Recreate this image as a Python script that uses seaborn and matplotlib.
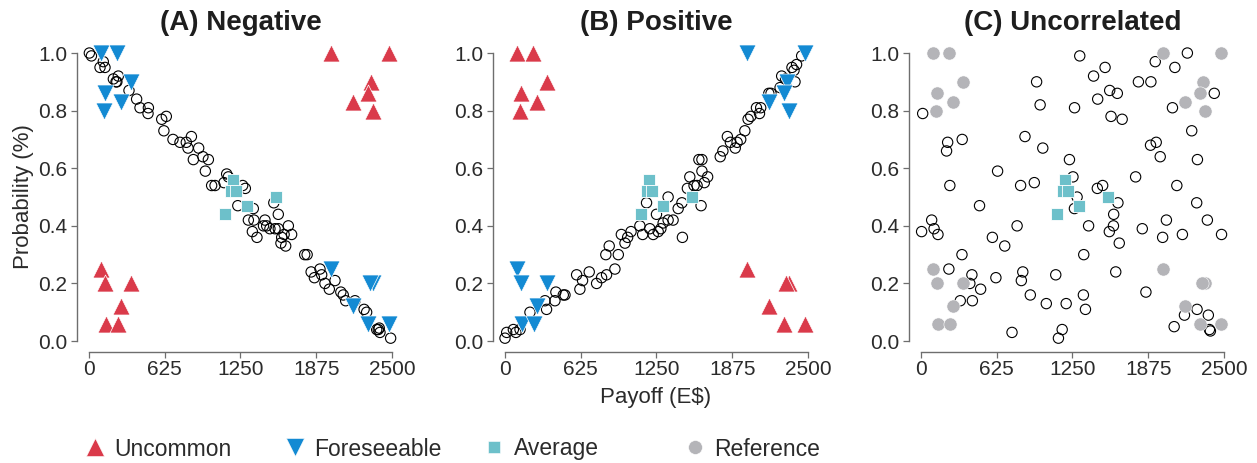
import numpy as np
import pandas as pd
import matplotlib
matplotlib.use("Agg")
import matplotlib.pyplot as plt
import seaborn as sns
from matplotlib.lines import Line2D
from matplotlib.transforms import blended_transform_factory

# ---------------- data ----------------
panel_titles = ["(A) Negative", "(B) Positive", "(C) Uncorrelated"]
x_ticks = [0, 625, 1250, 1875, 2500]
y_ticks = [0.0, 0.2, 0.4, 0.6, 0.8, 1.0]
y_tick_labels = ["0.0", "0.2", "0.4", "0.6", "0.8", "1.0"]
legend_labels = ["Uncommon", "Foreseeable", "Average", "Reference"]

# corner groups of special lotteries
tl_x = [96, 233, 348, 134, 266, 126]
tl_y = [1.00, 1.00, 0.90, 0.86, 0.83, 0.80]
bl_x = [96, 130, 350, 263, 138, 236]
bl_y = [0.25, 0.20, 0.20, 0.12, 0.06, 0.06]
tr_x = [1998, 2475, 2324, 2300, 2176, 2340]
tr_y = [1.00, 1.00, 0.90, 0.86, 0.83, 0.80]
br_x = [1998, 2340, 2322, 2176, 2300, 2475]
br_y = [0.25, 0.20, 0.20, 0.12, 0.06, 0.06]

avg_x = [1121, 1190, 1170, 1212, 1302, 1543]
avg_y = [0.44, 0.56, 0.52, 0.52, 0.47, 0.50]

neg_x = [3, 20, 91, 132, 118, 242, 201, 223, 230, 330, 393, 421, 490, 487, 600, 638, 618,
         693, 751, 803, 845, 817, 905, 861, 940, 985, 960, 1012, 1040, 1114, 1150, 1136,
         1268, 1290, 1228, 1525, 1562, 1356, 1315, 1361, 1348, 1386, 1452, 1440, 1466,
         1493, 1535, 1562, 1590, 1584, 1623, 1645, 1672, 1610, 1780, 1800, 1833, 1860,
         1906, 1920, 1947, 1983, 2030, 2078, 2098, 2118, 2195, 2270, 2291, 2374, 2387,
         2401, 2395, 2489]
neg_y = [1.00, 0.99, 0.95, 0.95, 0.97, 0.92, 0.91, 0.90, 0.90, 0.87, 0.84, 0.81, 0.81, 0.79,
         0.77, 0.78, 0.73, 0.70, 0.69, 0.69, 0.71, 0.67, 0.67, 0.63, 0.64, 0.63, 0.59, 0.54,
         0.54, 0.55, 0.57, 0.58, 0.54, 0.53, 0.47, 0.48, 0.44, 0.46, 0.42, 0.42, 0.38, 0.36,
         0.42, 0.40, 0.40, 0.39, 0.39, 0.39, 0.36, 0.34, 0.33, 0.40, 0.37, 0.37, 0.30, 0.30,
         0.24, 0.22, 0.25, 0.23, 0.20, 0.18, 0.21, 0.17, 0.16, 0.14, 0.14, 0.11, 0.10, 0.04,
         0.04, 0.03, 0.045, 0.01]

pos_x = [0, 14, 69, 90, 124, 206, 330, 343, 412, 420, 481, 495, 591, 618, 640, 695, 756, 797,
         838, 907, 832, 860, 935, 960, 990, 1012, 1040, 1113, 1136, 1168, 1195, 1223, 1250,
         1264, 1286, 1305, 1346, 1346, 1387, 1429, 1460, 1464, 1525, 1505, 1560, 1585, 1618,
         1600, 1625, 1625, 1645, 1672, 1776, 1798, 1835, 1860, 1900, 1915, 1945, 1979, 2006,
         2028, 2075, 2100, 2110, 2177, 2195, 2283, 2270, 2315, 2393, 2368, 2406, 2385, 2448]
pos_y = [0.01, 0.03, 0.04, 0.03, 0.04, 0.10, 0.14, 0.11, 0.14, 0.17, 0.16, 0.16, 0.23, 0.18,
         0.21, 0.24, 0.20, 0.22, 0.23, 0.25, 0.30, 0.33, 0.30, 0.37, 0.34, 0.36, 0.38, 0.40,
         0.37, 0.48, 0.39, 0.37, 0.44, 0.38, 0.39, 0.41, 0.50, 0.42, 0.42, 0.46, 0.48, 0.36,
         0.57, 0.53, 0.54, 0.54, 0.47, 0.63, 0.63, 0.59, 0.55, 0.57, 0.64, 0.66, 0.71, 0.69,
         0.67, 0.69, 0.70, 0.73, 0.77, 0.78, 0.81, 0.79, 0.81, 0.86, 0.86, 0.92, 0.88, 0.91,
         0.90, 0.95, 0.96, 0.94, 0.99]

unc_x = [14, 5, 88, 108, 140, 220, 211, 340, 238, 483, 230, 338, 420, 403, 492, 324, 424, 632,
         589, 691, 618, 751, 793, 840, 828, 902, 822, 935, 858, 954, 983, 1005, 1034, 1112,
         1165, 1134, 1198, 1225, 1254, 1288, 1266, 1310, 1267, 1383, 1343, 1340, 1357, 1424,
         1458, 1519, 1557, 1620, 1568, 1660, 1455, 1499, 1625, 1590, 1588, 1554, 1636, 1607,
         1771, 1794, 1897, 1933, 1826, 1856, 1894, 1941, 1974, 1994, 2025, 2095, 2198, 2075,
         2234, 2111, 2157, 2281, 2275, 2363, 2420, 2480, 2089, 2174, 2278, 2371, 2380, 2388]
unc_y = [0.79, 0.38, 0.42, 0.39, 0.37, 0.69, 0.66, 0.70, 0.54, 0.47, 0.25, 0.30, 0.23, 0.20,
         0.18, 0.14, 0.14, 0.59, 0.36, 0.33, 0.22, 0.03, 0.40, 0.24, 0.21, 0.16, 0.54, 0.55,
         0.71, 0.90, 0.82, 0.67, 0.13, 0.23, 0.04, 0.01, 0.13, 0.63, 0.57, 0.50, 0.46, 0.99,
         0.81, 0.40, 0.30, 0.16, 0.11, 0.92, 0.84, 0.95, 0.87, 0.86, 0.78, 0.77, 0.53, 0.54,
         0.48, 0.44, 0.40, 0.38, 0.34, 0.24, 0.57, 0.90, 0.90, 0.97, 0.39, 0.17, 0.68, 0.69,
         0.64, 0.36, 0.42, 0.95, 1.00, 0.81, 0.73, 0.54, 0.37, 0.63, 0.48, 0.42, 0.86, 0.37,
         0.05, 0.09, 0.11, 0.09, 0.04, 0.035]

# ---------------- style ----------------
RED = "#DA3A4A"
BLUE = "#138AD3"
TEAL = "#6DC0CA"
GREY = "#B4B4B8"
SPINE = "#6E6E6E"
TXT = "#2B2B2B"

sns.set_style("ticks")
plt.rcParams["font.family"] = ["Liberation Sans", "DejaVu Sans"]

W, H = 1257, 463
fig = plt.figure(figsize=(W / 100, H / 100), dpi=100)

XMIN, XMAX = -99, 2530
YMIN, YMAX = -0.038, 1.04
ax_left_px = [77, 493, 909]
ax_w_px = 318.6
ax_top_px = 41.5
ax_bot_px = 352

circle_sets = [(neg_x, neg_y), (pos_x, pos_y), (unc_x, unc_y)]

def cat(*lists):
    out = []
    for l in lists:
        out += list(l)
    return out

TRI_S = 150
for i in range(3):
    ax = fig.add_axes([ax_left_px[i] / W, 1 - ax_bot_px / H, ax_w_px / W,
                       (ax_bot_px - ax_top_px) / H])
    cx, cy = circle_sets[i]
    sns.scatterplot(x=cx, y=cy, ax=ax, marker="o", s=55, facecolor="none",
                    edgecolor="black", linewidth=0.8, zorder=2, clip_on=False)
    sns.scatterplot(x=avg_x, y=avg_y, ax=ax, marker="s", s=80, color=TEAL,
                    edgecolor="white", linewidth=0.6, zorder=3, clip_on=False)
    if i == 0:
        ux, uy = cat(bl_x, tr_x), cat(bl_y, tr_y)
        fx, fy = cat(tl_x, br_x), cat(tl_y, br_y)
    elif i == 1:
        ux, uy = cat(tl_x, br_x), cat(tl_y, br_y)
        fx, fy = cat(bl_x, tr_x), cat(bl_y, tr_y)
    if i < 2:
        sns.scatterplot(x=ux, y=uy, ax=ax, marker="^", s=TRI_S, color=RED,
                        edgecolor="white", linewidth=0.5, zorder=4, clip_on=False)
        sns.scatterplot(x=fx, y=fy, ax=ax, marker="v", s=TRI_S, color=BLUE,
                        edgecolor="white", linewidth=0.5, zorder=4, clip_on=False)
    else:
        rx = cat(tl_x, bl_x, tr_x, br_x)
        ry = cat(tl_y, bl_y, tr_y, br_y)
        sns.scatterplot(x=rx, y=ry, ax=ax, marker="o", s=90, color=GREY,
                        edgecolor="white", linewidth=0.4, zorder=4, clip_on=False)

    ax.set_xlim(XMIN, XMAX)
    ax.set_ylim(YMIN, YMAX)
    ax.set_xticks(x_ticks)
    ax.set_xticklabels([str(t) for t in x_ticks])
    ax.set_yticks(y_ticks)
    ax.set_yticklabels(y_tick_labels)
    for s in ["top", "right"]:
        ax.spines[s].set_visible(False)
    ax.spines["left"].set_bounds(0, 1)
    ax.spines["bottom"].set_bounds(0, 2500)
    for s in ["left", "bottom"]:
        ax.spines[s].set_color(SPINE)
        ax.spines[s].set_linewidth(1.0)
    ax.tick_params(axis="both", length=4, width=0.9, color=SPINE,
                   labelsize=15, labelcolor=TXT)
    ax.tick_params(axis="y", pad=3)
    ax.tick_params(axis="x", pad=1.5)
    ax.set_xlabel("")
    ax.set_ylabel("")
    ax.patch.set_alpha(0)
    tr = blended_transform_factory(ax.transData, ax.transAxes)
    ax.text(1250, 1 + 11.5 / (ax_bot_px - ax_top_px), panel_titles[i], transform=tr,
            ha="center", va="baseline", fontsize=20, fontweight="bold", color="#1E1E1E")

fig.text(24 / W, 1 - 197 / H, "Probability (%)", rotation=90, ha="center", va="center",
         fontsize=16, color=TXT)
fig.text(656 / W, 1 - 397 / H, "Payoff (E\\$)", ha="center", va="center",
         fontsize=16, color=TXT)

handles = [
    Line2D([], [], marker="^", linestyle="", color=RED, markersize=13, markeredgecolor="white", markeredgewidth=0.4),
    Line2D([], [], marker="v", linestyle="", color=BLUE, markersize=13, markeredgecolor="white", markeredgewidth=0.4),
    Line2D([], [], marker="s", linestyle="", color=TEAL, markersize=9, markeredgecolor="white", markeredgewidth=0.4),
    Line2D([], [], marker="o", linestyle="", color=GREY, markersize=10, markeredgecolor="white", markeredgewidth=0.4),
]
legend_marker_px = [95, 295, 494, 695]
LEG_FS = 16.5
half_handle_px = 0.8 * LEG_FS * 100 / 72 / 2
for h, lab, mx in zip(handles, legend_labels, legend_marker_px):
    fig.legend([h], [lab], loc="center left",
               bbox_to_anchor=((mx - half_handle_px) / W, 1 - 449 / H),
               frameon=False, fontsize=LEG_FS, handlelength=0.8, handletextpad=0.45,
               labelcolor=TXT, borderpad=0, borderaxespad=0)

fig.savefig("out.png", dpi=100)
